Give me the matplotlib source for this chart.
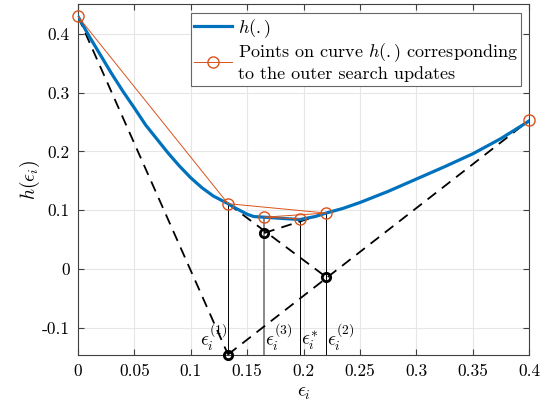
import numpy as np
import matplotlib
matplotlib.use('Agg')
import matplotlib.pyplot as plt

plt.rcParams['font.family'] = 'cmr10'
plt.rcParams['mathtext.fontset'] = 'cm'
plt.rcParams['axes.unicode_minus'] = False
plt.rcParams['axes.formatter.use_mathtext'] = True

# curve h(.)
eps_grid = [0, 0.01, 0.02, 0.03, 0.04, 0.05, 0.06, 0.07, 0.08, 0.09, 0.10, 0.11, 0.12, 0.133,
            0.14, 0.15, 0.156, 0.165, 0.18, 0.197, 0.21, 0.22, 0.235, 0.25, 0.275, 0.30,
            0.325, 0.35, 0.375, 0.40]
h_vals = [0.430, 0.396, 0.364, 0.332, 0.302, 0.274, 0.245, 0.221, 0.197, 0.175, 0.155, 0.138,
          0.124, 0.111, 0.103, 0.093, 0.089, 0.088, 0.086, 0.084, 0.089, 0.095, 0.103, 0.113,
          0.132, 0.153, 0.174, 0.196, 0.222, 0.252]

# outer search updates (in order), plus the right end point
eps_pts = [0, 0.133, 0.22, 0.165, 0.197]
h_pts = [0.430, 0.111, 0.095, 0.088, 0.085]
eps_end = 0.40
h_end = 0.253

# cutting lines (dashed)
cut_x = [[0, 0.133], [0.133, 0.40], [0.133, 0.22], [0.165, 0.22]]
cut_y = [[0.430, -0.146], [-0.146, 0.253], [0.111, -0.014], [0.061, 0.095]]

# intersections of the cutting lines
int_x = [0.133, 0.22, 0.165]
int_y = [-0.146, -0.014, 0.061]

# vertical markers and their labels
vert_x = [0.133, 0.165, 0.197, 0.22]
vert_top = [0.111, 0.088, 0.085, 0.095]
vert_lab = [r'$\epsilon_i^{(1)}$', r'$\epsilon_i^{(3)}$', r'$\epsilon_i^{*}$', r'$\epsilon_i^{(2)}$']

ylo, yhi = -0.147, 0.451

fig = plt.figure(figsize=(5.53, 4.11), dpi=100)
ax = fig.add_axes([0.141, 0.136, 0.816, 0.854])

ax.grid(True, color='0.9', linewidth=0.8)
ax.set_axisbelow(True)

for i in range(len(vert_x)):
    col = '0.5' if i == 1 else 'k'
    lw = 1.3 if i == 1 else 0.7
    ax.plot([vert_x[i], vert_x[i]], [ylo, vert_top[i]], color=col, linewidth=lw, zorder=2)

for i in range(len(cut_x)):
    ax.plot(cut_x[i], cut_y[i], color='k', linestyle=(0, (6, 4)), linewidth=1.3, zorder=3)

ax.plot(int_x, int_y, 'o', markerfacecolor='none', markeredgecolor='k',
        markeredgewidth=2, markersize=6, zorder=5, clip_on=False)

ax.plot(eps_grid, h_vals, color='#0072BD', linewidth=2.3, label=r'$h(.)$', zorder=4)
ax.plot(eps_pts, h_pts, '-o', color='#D95319', linewidth=0.7, markersize=8,
        markerfacecolor='none', markeredgewidth=1.0, zorder=6, clip_on=False,
        label='Points on curve $h(.)$ corresponding\nto the outer search updates')
ax.plot([eps_end], [h_end], 'o', color='#D95319', markersize=8, markerfacecolor='none',
        markeredgewidth=1.0, zorder=6, clip_on=False)

for i in range(len(vert_x)):
    if i == 0:
        ax.text(vert_x[i] - 0.001, ylo + 0.004, vert_lab[i], ha='right', va='bottom', fontsize=14)
    else:
        ax.text(vert_x[i] + 0.001, ylo + 0.004, vert_lab[i], ha='left', va='bottom', fontsize=14)

ax.set_xlim(0, 0.4)
ax.set_ylim(ylo, yhi)
ax.set_xticks(np.arange(0, 0.41, 0.05))
ax.set_xticklabels(['0', '0.05', '0.1', '0.15', '0.2', '0.25', '0.3', '0.35', '0.4'])
ax.set_yticks([-0.1, 0, 0.1, 0.2, 0.3, 0.4])
ax.set_yticklabels(['-0.1', '0', '0.1', '0.2', '0.3', '0.4'])
ax.tick_params(direction='in', top=True, right=True, labelsize=12.5, length=4,
               color='0.25', pad=6)
for s in ax.spines.values():
    s.set_color('0.25')
    s.set_linewidth(0.8)

ax.set_xlabel(r'$\epsilon_i$', fontsize=14)
ax.set_ylabel(r'$h(\epsilon_i)$', fontsize=14, labelpad=0)

leg = ax.legend(loc='upper right', bbox_to_anchor=(0.982, 0.974), borderaxespad=0,
                fontsize=13, handlelength=2.1, handletextpad=0.3, fancybox=False,
                framealpha=1, edgecolor='0.4', borderpad=0.2, labelspacing=0.1)
leg.get_frame().set_linewidth(0.8)

fig.savefig('out.png', dpi=100)
